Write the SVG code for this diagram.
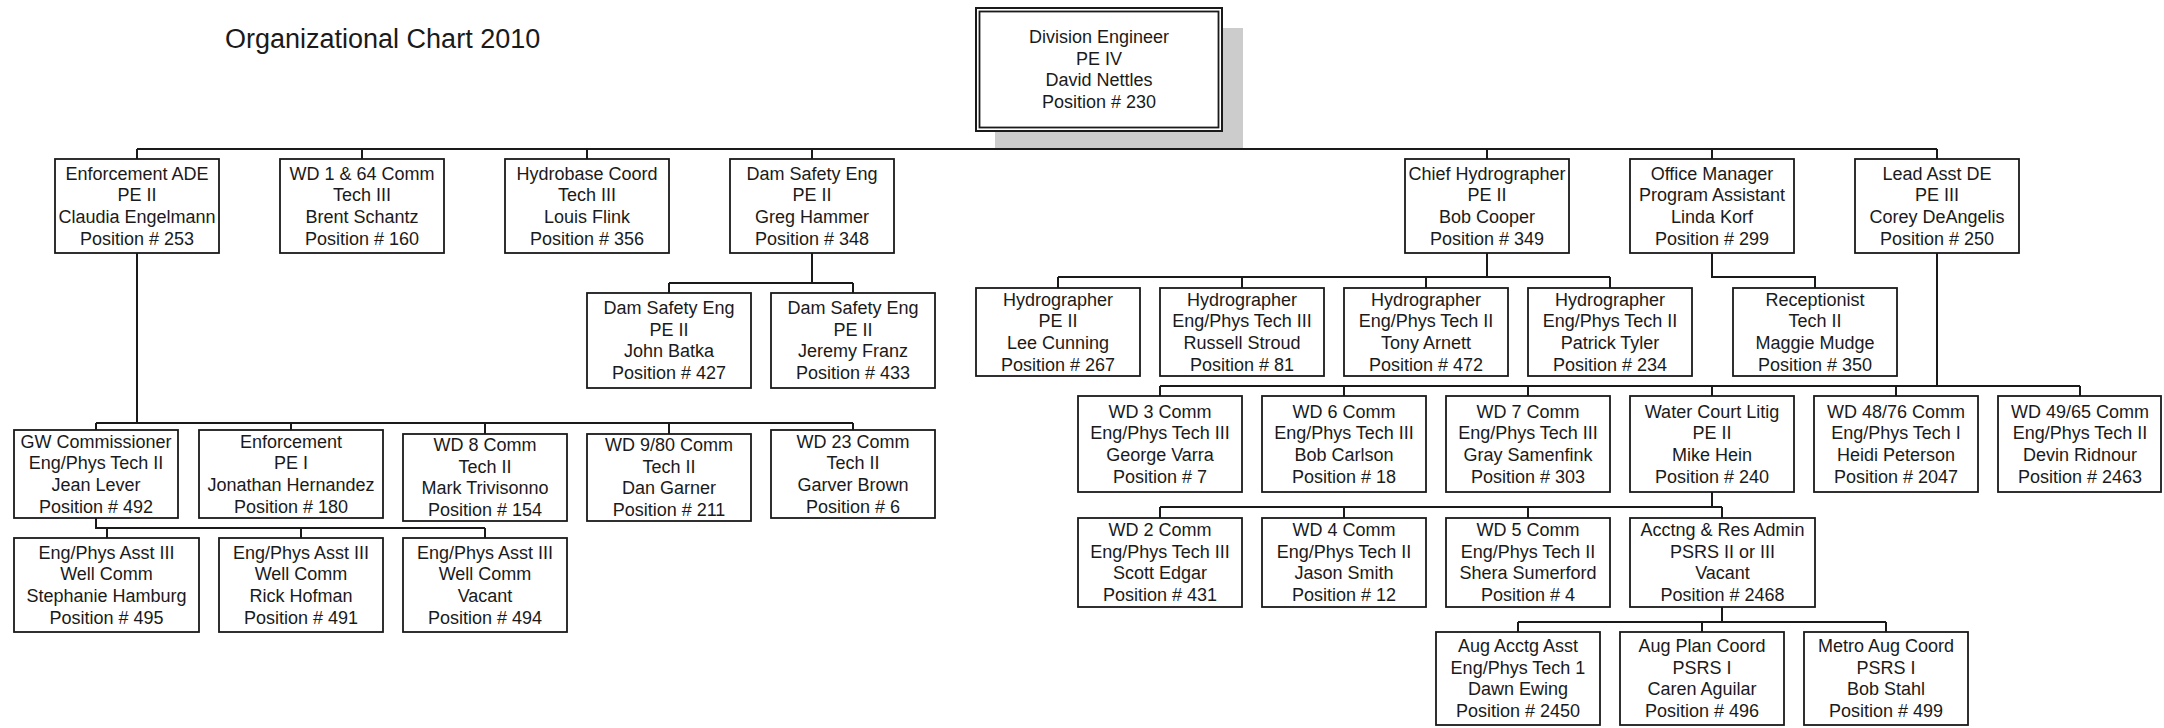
<svg xmlns="http://www.w3.org/2000/svg" width="2164" height="728" viewBox="0 0 2164 728">
<style>
.b{fill:#fff;stroke:#1a1a1a;stroke-width:1.8}
.t{font-family:"Liberation Sans",Arial,sans-serif;font-size:18px;fill:#1a1a1a;text-anchor:middle}
.c{fill:none;stroke:#1a1a1a;stroke-width:2}
</style>
<rect width="2164" height="728" fill="#fff"/>
<text x="225" y="48" font-family="Liberation Sans, Arial, sans-serif" font-size="27" fill="#1a1a1a">Organizational Chart 2010</text>
<g id="connectors">
<path class="c" d="M1099 131V149M137 149H1937M137 149V159M362 149V159M587 149V159M812 149V159M1487 149V159M1712 149V159M1937 149V159"/>
<path class="c" d="M812 253V283M669 283H853M669 283V293M853 283V293"/>
<path class="c" d="M137 253V423M96 423H853M96 423V430M291 423V430M485 423V434M669 423V434M853 423V430"/>
<path class="c" d="M96 518V528H485M107 528V538M301 528V538M485 528V538"/>
<path class="c" d="M1487 253V277M1058 277H1610M1058 277V288M1242 277V288M1426 277V288M1610 277V288"/>
<path class="c" d="M1712 253V277H1815V288"/>
<path class="c" d="M1937 253V386M1160 386H2080M1160 386V396M1344 386V396M1528 386V396M1712 386V396M1896 386V396M2080 386V396"/>
<path class="c" d="M1712 492V507M1160 507H1722M1160 507V518M1344 507V518M1528 507V518M1722 507V518"/>
<path class="c" d="M1722 607V622M1518 622H1886M1518 622V632M1702 622V632M1886 622V632"/>
</g>
<g id="n-division-engineer">
<rect x="995" y="28" width="248" height="120" fill="#cccccc"/>
<rect x="976" y="8" width="246" height="123" fill="#fff" stroke="#1a1a1a" stroke-width="2"/>
<rect x="979.5" y="11.5" width="239" height="116" fill="none" stroke="#1a1a1a" stroke-width="1.8"/>
<text class="t" x="1099" y="43">Division Engineer</text>
<text class="t" x="1099" y="64.7">PE IV</text>
<text class="t" x="1099" y="86.4">David Nettles</text>
<text class="t" x="1099" y="108.1">Position # 230</text>
</g>
<g id="n-enforcement-ade"><rect class="b" x="55" y="159" width="164" height="94"/>
<text class="t" x="137" y="179.5">Enforcement ADE</text><text class="t" x="137" y="201.2">PE II</text><text class="t" x="137" y="222.9">Claudia Engelmann</text><text class="t" x="137" y="244.6">Position # 253</text></g>
<g id="n-wd164"><rect class="b" x="280" y="159" width="164" height="94"/>
<text class="t" x="362" y="179.5">WD 1 &amp; 64 Comm</text><text class="t" x="362" y="201.2">Tech III</text><text class="t" x="362" y="222.9">Brent Schantz</text><text class="t" x="362" y="244.6">Position # 160</text></g>
<g id="n-hydrobase"><rect class="b" x="505" y="159" width="164" height="94"/>
<text class="t" x="587" y="179.5">Hydrobase Coord</text><text class="t" x="587" y="201.2">Tech III</text><text class="t" x="587" y="222.9">Louis Flink</text><text class="t" x="587" y="244.6">Position # 356</text></g>
<g id="n-dam-safety"><rect class="b" x="730" y="159" width="164" height="94"/>
<text class="t" x="812" y="179.5">Dam Safety Eng</text><text class="t" x="812" y="201.2">PE II</text><text class="t" x="812" y="222.9">Greg Hammer</text><text class="t" x="812" y="244.6">Position # 348</text></g>
<g id="n-chief-hydro"><rect class="b" x="1405" y="159" width="164" height="94"/>
<text class="t" x="1487" y="179.5">Chief Hydrographer</text><text class="t" x="1487" y="201.2">PE II</text><text class="t" x="1487" y="222.9">Bob Cooper</text><text class="t" x="1487" y="244.6">Position # 349</text></g>
<g id="n-office-mgr"><rect class="b" x="1630" y="159" width="164" height="94"/>
<text class="t" x="1712" y="179.5">Office Manager</text><text class="t" x="1712" y="201.2">Program Assistant</text><text class="t" x="1712" y="222.9">Linda Korf</text><text class="t" x="1712" y="244.6">Position # 299</text></g>
<g id="n-lead-asst"><rect class="b" x="1855" y="159" width="164" height="94"/>
<text class="t" x="1937" y="179.5">Lead Asst DE</text><text class="t" x="1937" y="201.2">PE III</text><text class="t" x="1937" y="222.9">Corey DeAngelis</text><text class="t" x="1937" y="244.6">Position # 250</text></g>
<g id="n-batka"><rect class="b" x="587" y="293" width="164" height="95"/>
<text class="t" x="669" y="314">Dam Safety Eng</text><text class="t" x="669" y="335.7">PE II</text><text class="t" x="669" y="357.4">John Batka</text><text class="t" x="669" y="379.1">Position # 427</text></g>
<g id="n-franz"><rect class="b" x="771" y="293" width="164" height="95"/>
<text class="t" x="853" y="314">Dam Safety Eng</text><text class="t" x="853" y="335.7">PE II</text><text class="t" x="853" y="357.4">Jeremy Franz</text><text class="t" x="853" y="379.1">Position # 433</text></g>
<g id="n-gw"><rect class="b" x="14" y="430" width="164" height="88"/>
<text class="t" x="96" y="447.5">GW Commissioner</text><text class="t" x="96" y="469.2">Eng/Phys Tech II</text><text class="t" x="96" y="490.9">Jean Lever</text><text class="t" x="96" y="512.6">Position # 492</text></g>
<g id="n-enforcement"><rect class="b" x="199" y="430" width="184" height="88"/>
<text class="t" x="291" y="447.5">Enforcement</text><text class="t" x="291" y="469.2">PE I</text><text class="t" x="291" y="490.9">Jonathan Hernandez</text><text class="t" x="291" y="512.6">Position # 180</text></g>
<g id="n-wd8"><rect class="b" x="403" y="434" width="164" height="87"/>
<text class="t" x="485" y="451">WD 8 Comm</text><text class="t" x="485" y="472.7">Tech II</text><text class="t" x="485" y="494.4">Mark Trivisonno</text><text class="t" x="485" y="516.1">Position # 154</text></g>
<g id="n-wd980"><rect class="b" x="587" y="434" width="164" height="87"/>
<text class="t" x="669" y="451">WD 9/80 Comm</text><text class="t" x="669" y="472.7">Tech II</text><text class="t" x="669" y="494.4">Dan Garner</text><text class="t" x="669" y="516.1">Position # 211</text></g>
<g id="n-wd23"><rect class="b" x="771" y="430" width="164" height="88"/>
<text class="t" x="853" y="447.5">WD 23 Comm</text><text class="t" x="853" y="469.2">Tech II</text><text class="t" x="853" y="490.9">Garver Brown</text><text class="t" x="853" y="512.6">Position # 6</text></g>
<g id="n-hamburg"><rect class="b" x="14" y="538" width="185" height="94"/>
<text class="t" x="106.5" y="558.5">Eng/Phys Asst III</text><text class="t" x="106.5" y="580.2">Well Comm</text><text class="t" x="106.5" y="601.9">Stephanie Hamburg</text><text class="t" x="106.5" y="623.6">Position # 495</text></g>
<g id="n-hofman"><rect class="b" x="219" y="538" width="164" height="94"/>
<text class="t" x="301" y="558.5">Eng/Phys Asst III</text><text class="t" x="301" y="580.2">Well Comm</text><text class="t" x="301" y="601.9">Rick Hofman</text><text class="t" x="301" y="623.6">Position # 491</text></g>
<g id="n-vacant-well"><rect class="b" x="403" y="538" width="164" height="94"/>
<text class="t" x="485" y="558.5">Eng/Phys Asst III</text><text class="t" x="485" y="580.2">Well Comm</text><text class="t" x="485" y="601.9">Vacant</text><text class="t" x="485" y="623.6">Position # 494</text></g>
<g id="n-cunning"><rect class="b" x="976" y="288" width="164" height="88"/>
<text class="t" x="1058" y="305.5">Hydrographer</text><text class="t" x="1058" y="327.2">PE II</text><text class="t" x="1058" y="348.9">Lee Cunning</text><text class="t" x="1058" y="370.6">Position # 267</text></g>
<g id="n-stroud"><rect class="b" x="1160" y="288" width="164" height="88"/>
<text class="t" x="1242" y="305.5">Hydrographer</text><text class="t" x="1242" y="327.2">Eng/Phys Tech III</text><text class="t" x="1242" y="348.9">Russell Stroud</text><text class="t" x="1242" y="370.6">Position # 81</text></g>
<g id="n-arnett"><rect class="b" x="1344" y="288" width="164" height="88"/>
<text class="t" x="1426" y="305.5">Hydrographer</text><text class="t" x="1426" y="327.2">Eng/Phys Tech II</text><text class="t" x="1426" y="348.9">Tony Arnett</text><text class="t" x="1426" y="370.6">Position # 472</text></g>
<g id="n-tyler"><rect class="b" x="1528" y="288" width="164" height="88"/>
<text class="t" x="1610" y="305.5">Hydrographer</text><text class="t" x="1610" y="327.2">Eng/Phys Tech II</text><text class="t" x="1610" y="348.9">Patrick Tyler</text><text class="t" x="1610" y="370.6">Position # 234</text></g>
<g id="n-receptionist"><rect class="b" x="1733" y="288" width="164" height="88"/>
<text class="t" x="1815" y="305.5">Receptionist</text><text class="t" x="1815" y="327.2">Tech II</text><text class="t" x="1815" y="348.9">Maggie Mudge</text><text class="t" x="1815" y="370.6">Position # 350</text></g>
<g id="n-wd3"><rect class="b" x="1078" y="396" width="164" height="96"/>
<text class="t" x="1160" y="417.5">WD 3 Comm</text><text class="t" x="1160" y="439.2">Eng/Phys Tech III</text><text class="t" x="1160" y="460.9">George Varra</text><text class="t" x="1160" y="482.6">Position # 7</text></g>
<g id="n-wd6"><rect class="b" x="1262" y="396" width="164" height="96"/>
<text class="t" x="1344" y="417.5">WD 6 Comm</text><text class="t" x="1344" y="439.2">Eng/Phys Tech III</text><text class="t" x="1344" y="460.9">Bob Carlson</text><text class="t" x="1344" y="482.6">Position # 18</text></g>
<g id="n-wd7"><rect class="b" x="1446" y="396" width="164" height="96"/>
<text class="t" x="1528" y="417.5">WD 7 Comm</text><text class="t" x="1528" y="439.2">Eng/Phys Tech III</text><text class="t" x="1528" y="460.9">Gray Samenfink</text><text class="t" x="1528" y="482.6">Position # 303</text></g>
<g id="n-water-court"><rect class="b" x="1630" y="396" width="164" height="96"/>
<text class="t" x="1712" y="417.5">Water Court Litig</text><text class="t" x="1712" y="439.2">PE II</text><text class="t" x="1712" y="460.9">Mike Hein</text><text class="t" x="1712" y="482.6">Position # 240</text></g>
<g id="n-wd4876"><rect class="b" x="1814" y="396" width="164" height="96"/>
<text class="t" x="1896" y="417.5">WD 48/76 Comm</text><text class="t" x="1896" y="439.2">Eng/Phys Tech I</text><text class="t" x="1896" y="460.9">Heidi Peterson</text><text class="t" x="1896" y="482.6">Position # 2047</text></g>
<g id="n-wd4965"><rect class="b" x="1998" y="396" width="163" height="96"/>
<text class="t" x="2080" y="417.5">WD 49/65 Comm</text><text class="t" x="2080" y="439.2">Eng/Phys Tech II</text><text class="t" x="2080" y="460.9">Devin Ridnour</text><text class="t" x="2080" y="482.6">Position # 2463</text></g>
<g id="n-wd2"><rect class="b" x="1078" y="518" width="164" height="89"/>
<text class="t" x="1160" y="536">WD 2 Comm</text><text class="t" x="1160" y="557.7">Eng/Phys Tech III</text><text class="t" x="1160" y="579.4">Scott Edgar</text><text class="t" x="1160" y="601.1">Position # 431</text></g>
<g id="n-wd4"><rect class="b" x="1262" y="518" width="164" height="89"/>
<text class="t" x="1344" y="536">WD 4 Comm</text><text class="t" x="1344" y="557.7">Eng/Phys Tech II</text><text class="t" x="1344" y="579.4">Jason Smith</text><text class="t" x="1344" y="601.1">Position # 12</text></g>
<g id="n-wd5"><rect class="b" x="1446" y="518" width="164" height="89"/>
<text class="t" x="1528" y="536">WD 5 Comm</text><text class="t" x="1528" y="557.7">Eng/Phys Tech II</text><text class="t" x="1528" y="579.4">Shera Sumerford</text><text class="t" x="1528" y="601.1">Position # 4</text></g>
<g id="n-acctng"><rect class="b" x="1630" y="518" width="185" height="89"/>
<text class="t" x="1722.5" y="536">Acctng &amp; Res Admin</text><text class="t" x="1722.5" y="557.7">PSRS II or III</text><text class="t" x="1722.5" y="579.4">Vacant</text><text class="t" x="1722.5" y="601.1">Position # 2468</text></g>
<g id="n-aug-acctg"><rect class="b" x="1436" y="632" width="164" height="93"/>
<text class="t" x="1518" y="652">Aug Acctg Asst</text><text class="t" x="1518" y="673.7">Eng/Phys Tech 1</text><text class="t" x="1518" y="695.4">Dawn Ewing</text><text class="t" x="1518" y="717.1">Position # 2450</text></g>
<g id="n-aug-plan"><rect class="b" x="1620" y="632" width="164" height="93"/>
<text class="t" x="1702" y="652">Aug Plan Coord</text><text class="t" x="1702" y="673.7">PSRS I</text><text class="t" x="1702" y="695.4">Caren Aguilar</text><text class="t" x="1702" y="717.1">Position # 496</text></g>
<g id="n-metro-aug"><rect class="b" x="1804" y="632" width="164" height="93"/>
<text class="t" x="1886" y="652">Metro Aug Coord</text><text class="t" x="1886" y="673.7">PSRS I</text><text class="t" x="1886" y="695.4">Bob Stahl</text><text class="t" x="1886" y="717.1">Position # 499</text></g>
</svg>
